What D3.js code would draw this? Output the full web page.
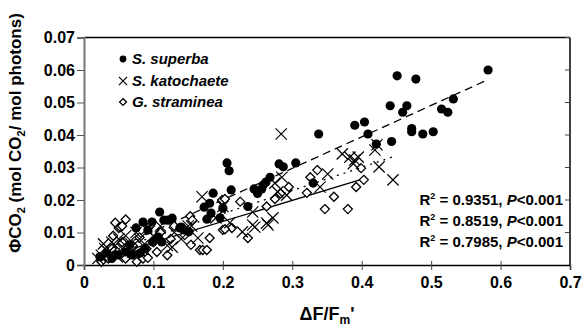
<!DOCTYPE html>
<html>
<head>
<meta charset="utf-8">
<script src="https://cdn.jsdelivr.net/npm/d3@7"></script>
<style>
  body { margin: 0; background: #fff; }
  svg text { font-family: Arial, "Liberation Sans", sans-serif; font-weight: bold; }
</style>
</head>
<body>
<svg id="chart" width="584" height="328"></svg>
<script>
'use strict';

// S. superba (filled circles)
const superbaX = [0.023, 0.032, 0.04, 0.049, 0.06, 0.066, 0.069, 0.075, 0.081, 0.085, 0.088, 0.092, 0.098, 0.099, 0.107, 0.109, 0.112, 0.115, 0.121, 0.127, 0.138, 0.14, 0.144, 0.151,
  0.173, 0.177, 0.181, 0.183, 0.186, 0.196, 0.2, 0.206, 0.209, 0.212, 0.236, 0.245, 0.25, 0.256, 0.258, 0.262, 0.268, 0.281, 0.287, 0.305, 0.33, 0.338,
  0.39, 0.404, 0.409, 0.421, 0.443, 0.441, 0.451, 0.459, 0.465, 0.472, 0.472, 0.478, 0.488, 0.503, 0.515, 0.524, 0.532, 0.582];
const superbaY = [0.0025, 0.0037, 0.002, 0.0031, 0.004, 0.0062, 0.0031, 0.0114, 0.0037, 0.0132, 0.005, 0.0108, 0.0132, 0.0071, 0.0086, 0.0163, 0.0071, 0.0138, 0.0138, 0.0144, 0.0114, 0.0117, 0.0108, 0.0102,
  0.0178, 0.0141, 0.019, 0.016, 0.0221, 0.0145, 0.0175, 0.0314, 0.029, 0.0231, 0.018, 0.0234, 0.022, 0.0234, 0.0246, 0.0255, 0.027, 0.0311, 0.0302, 0.0314, 0.0252, 0.0403,
  0.043, 0.044, 0.0403, 0.0372, 0.038, 0.049, 0.0582, 0.047, 0.049, 0.042, 0.041, 0.0572, 0.0403, 0.041, 0.048, 0.047, 0.0511, 0.060];

// S. katochaete (crosses)
const katoX = [0.02, 0.025, 0.028, 0.03, 0.035, 0.04, 0.045, 0.048, 0.05, 0.055, 0.06, 0.065, 0.07, 0.075, 0.08, 0.085, 0.09, 0.1, 0.11, 0.12, 0.13, 0.14, 0.15, 0.155,
  0.127, 0.164, 0.17, 0.19, 0.2, 0.21, 0.228, 0.243, 0.246, 0.243, 0.263, 0.265, 0.272, 0.275, 0.279, 0.285, 0.292, 0.284, 0.34, 0.351,
  0.372, 0.383, 0.39, 0.395, 0.388, 0.419, 0.422, 0.425, 0.445];
const katoY = [0.002, 0.003, 0.0065, 0.005, 0.004, 0.007, 0.006, 0.0025, 0.008, 0.005, 0.009, 0.007, 0.004, 0.01, 0.008, 0.006, 0.011, 0.009, 0.012, 0.006, 0.01, 0.008, 0.012, 0.012,
  0.0055, 0.0083, 0.021, 0.0145, 0.018, 0.013, 0.0102, 0.0123, 0.0117, 0.0163, 0.0129, 0.0123, 0.0145, 0.0252, 0.0225, 0.027, 0.0215, 0.0403, 0.024, 0.028,
  0.0342, 0.0332, 0.0323, 0.0332, 0.0312, 0.0354, 0.037, 0.0302, 0.0262];

// G. straminea (open diamonds)
const stramX = [0.025, 0.03, 0.035, 0.04, 0.042, 0.045, 0.045, 0.05, 0.052, 0.055, 0.055, 0.06, 0.06, 0.065, 0.07, 0.075, 0.076, 0.08, 0.085, 0.09, 0.092, 0.095, 0.1, 0.105, 0.11, 0.12, 0.125, 0.13,
  0.145, 0.153, 0.154, 0.156, 0.167, 0.171, 0.177, 0.181, 0.199, 0.203, 0.2, 0.213, 0.236, 0.203, 0.225, 0.263, 0.275, 0.283, 0.295,
  0.321, 0.326, 0.336, 0.347, 0.36, 0.38, 0.392, 0.399, 0.403];
const stramY = [0.001, 0.003, 0.002, 0.005, 0.009, 0.003, 0.013, 0.0114, 0.0117, 0.007, 0.012, 0.002, 0.014, 0.0045, 0.006, 0.003, 0.001, 0.0085, 0.002, 0.005, 0.0022, 0.012, 0.007, 0.004, 0.01, 0.003, 0.008, 0.012,
  0.0092, 0.015, 0.0062, 0.0138, 0.0046, 0.0046, 0.0046, 0.0083, 0.02, 0.0203, 0.0108, 0.0114, 0.0083, 0.011, 0.0195, 0.018, 0.0203, 0.022, 0.024,
  0.0222, 0.027, 0.0292, 0.0172, 0.021, 0.0172, 0.024, 0.0298, 0.0262];

// regression lines: slope, intercept, x range
const fitSlope = [0.0968, 0.0714, 0.0646];
const fitIntercept = [0.0007, 0.0015, 0.0005];
const fitStart = [0.02, 0.02, 0.02];
const fitEnd = [0.578, 0.444, 0.402];

const speciesNames = ['S. superba', 'S. katochaete', 'G. straminea'];
const statLabels = ['0.9351', '0.8519', '0.7985'];
const xTicks = [0, 0.1, 0.2, 0.3, 0.4, 0.5, 0.6, 0.7];
const yTicks = [0, 0.01, 0.02, 0.03, 0.04, 0.05, 0.06, 0.07];

const margin = { top: 37.5, left: 84, right: 14, bottom: 63 };
const width = 584, height = 328;
const svg = d3.select('#chart');

const xScale = d3.scaleLinear()
  .domain([0, 0.7])
  .range([margin.left, width - margin.right]);
const yScale = d3.scaleLinear()
  .domain([0, 0.07])
  .range([height - margin.bottom, margin.top]);

// frame
svg.append('line')
  .attr('x1', xScale(0)).attr('x2', xScale(0.7))
  .attr('y1', yScale(0.07)).attr('y2', yScale(0.07))
  .attr('stroke', '#000').attr('stroke-width', 1.5);
svg.append('line')
  .attr('x1', xScale(0.7)).attr('x2', xScale(0.7))
  .attr('y1', yScale(0.07)).attr('y2', yScale(0))
  .attr('stroke', '#000').attr('stroke-width', 1.5);

// right ticks pointing inward
svg.append('g')
  .selectAll('line')
  .data(yTicks.slice(1))
  .join('line')
  .attr('x1', xScale(0.7) - 5).attr('x2', xScale(0.7))
  .attr('y1', d => yScale(d)).attr('y2', d => yScale(d))
  .attr('stroke', '#444').attr('stroke-width', 1);

const xAxis = d3.axisBottom(xScale)
  .tickValues(xTicks)
  .tickFormat(d => d === 0 ? '0' : d3.format('.1f')(d))
  .tickSizeOuter(0)
  .tickSize(5)
  .tickPadding(7);
const gx = svg.append('g')
  .attr('transform', `translate(0, ${yScale(0)})`)
  .call(xAxis);
gx.select('.domain').attr('stroke', '#000').attr('stroke-width', 1.5);
gx.selectAll('.tick line').attr('y1', -4).attr('stroke', '#444');
gx.selectAll('.tick text').attr('font-size', 16).attr('fill', '#000')
  .style('font-family', 'Arial, "Liberation Sans", sans-serif').style('font-weight', 'bold');

const yAxis = d3.axisLeft(yScale)
  .tickValues(yTicks)
  .tickFormat(d => d === 0 ? '0' : d3.format('.2f')(d))
  .tickSizeOuter(0)
  .tickSize(7)
  .tickPadding(2);
const gy = svg.append('g')
  .attr('transform', `translate(${xScale(0)}, 0)`)
  .call(yAxis);
gy.select('.domain').attr('stroke', '#777').attr('stroke-width', 2);
gy.selectAll('.tick line').attr('stroke', '#555');
gy.selectAll('.tick text').attr('font-size', 16).attr('fill', '#000')
  .style('font-family', 'Arial, "Liberation Sans", sans-serif').style('font-weight', 'bold');

// fit lines
const fitDash = ['8,5', '2,5', null];
fitSlope.forEach((m, i) => {
  const xs = [fitStart[i], fitEnd[i]];
  svg.append('path')
    .datum(xs)
    .attr('d', d3.line().x(d => xScale(d)).y(d => yScale(m * d + fitIntercept[i])))
    .attr('fill', 'none')
    .attr('stroke', '#000')
    .attr('stroke-width', 1.3)
    .attr('stroke-dasharray', fitDash[i]);
});

const plot = svg.append('g');

// diamonds
const diamond = d3.symbol().type(d3.symbolDiamond2).size(52);
plot.selectAll('.stram')
  .data(d3.zip(stramX, stramY))
  .join('path')
  .attr('class', 'stram')
  .attr('transform', d => `translate(${xScale(d[0])}, ${yScale(d[1])})`)
  .attr('d', diamond)
  .attr('fill', '#fff')
  .attr('stroke', '#000')
  .attr('stroke-width', 1.3);

// crosses
const cross = d3.symbol().type(d3.symbolX).size(85);
plot.selectAll('.kato')
  .data(d3.zip(katoX, katoY))
  .join('path')
  .attr('class', 'kato')
  .attr('transform', d => `translate(${xScale(d[0])}, ${yScale(d[1])})`)
  .attr('d', cross)
  .attr('fill', 'none')
  .attr('stroke', '#000')
  .attr('stroke-width', 1.2);

// circles
plot.selectAll('.superba')
  .data(d3.zip(superbaX, superbaY))
  .join('circle')
  .attr('class', 'superba')
  .attr('cx', d => xScale(d[0]))
  .attr('cy', d => yScale(d[1]))
  .attr('r', 4.6)
  .attr('fill', '#000');

// legend
const legend = svg.append('g').attr('transform', 'translate(123, 0)');
const legendY = [59, 81, 102];
legend.append('circle').attr('cx', 0).attr('cy', legendY[0]).attr('r', 3.4).attr('fill', '#000');
legend.append('path').attr('transform', `translate(0, ${legendY[1]})`)
  .attr('d', d3.symbol().type(d3.symbolX).size(45)).attr('stroke', '#000').attr('stroke-width', 1.2);
legend.append('path').attr('transform', `translate(0, ${legendY[2]})`)
  .attr('d', d3.symbol().type(d3.symbolDiamond2).size(30)).attr('fill', '#fff')
  .attr('stroke', '#000').attr('stroke-width', 1.3);
legend.selectAll('text')
  .data(speciesNames)
  .join('text')
  .attr('x', 9)
  .attr('y', (d, i) => legendY[i] + 5)
  .attr('font-size', 15)
  .attr('font-style', 'italic')
  .text(d => d);

// R2 / P annotations
const stats = svg.append('g');
const statY = [205, 226, 247];
statLabels.forEach((v, i) => {
  const t = stats.append('text')
    .attr('x', 563)
    .attr('y', statY[i])
    .attr('text-anchor', 'end')
    .attr('font-size', 15);
  t.append('tspan').text('R');
  t.append('tspan').attr('font-size', 9).attr('dy', -6).text('2');
  t.append('tspan').attr('dy', 6).text(` = ${v}, `);
  t.append('tspan').attr('font-style', 'italic').text('P');
  t.append('tspan').text('<0.001');
});

// axis titles
const xTitle = svg.append('text')
  .attr('x', (xScale(0) + xScale(0.7)) / 2)
  .attr('y', 320)
  .attr('text-anchor', 'middle')
  .attr('font-size', 18);
xTitle.append('tspan').text('\u0394F/F');
xTitle.append('tspan').attr('font-size', 12).attr('dy', 4).text('m');
xTitle.append('tspan').attr('dy', -4).text('\'');

const yTitle = svg.append('text')
  .attr('transform', 'translate(21, 133) rotate(-90)')
  .attr('text-anchor', 'middle')
  .attr('font-size', 17);
yTitle.append('tspan').text('\u03A6CO');
yTitle.append('tspan').attr('font-size', 11).attr('dy', 4).text('2');
yTitle.append('tspan').attr('dy', -4).text(' (mol CO');
yTitle.append('tspan').attr('font-size', 11).attr('dy', 4).text('2');
yTitle.append('tspan').attr('dy', -4).text('/ mol photons)');
</script>
</body>
</html>
